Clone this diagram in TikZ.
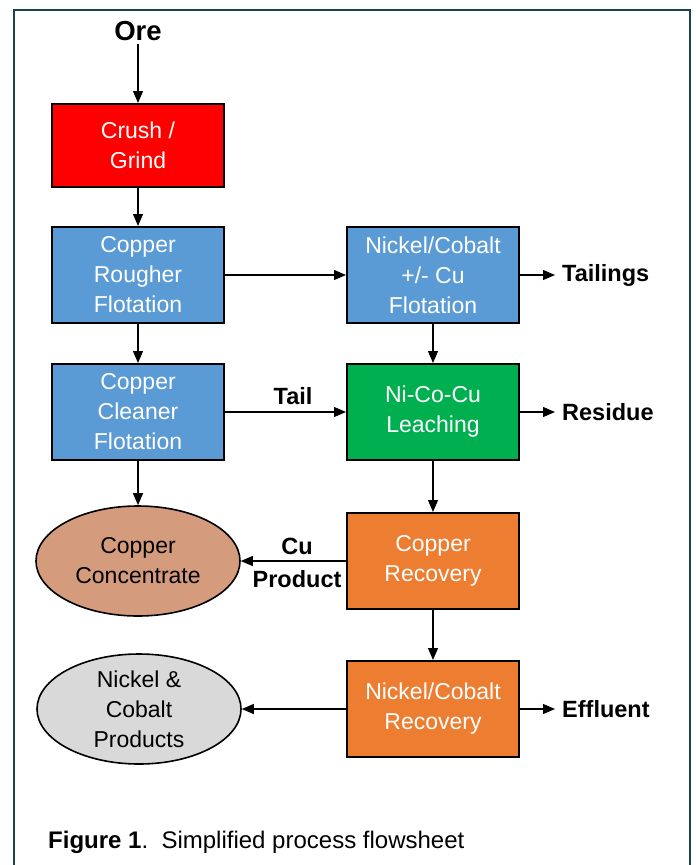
\documentclass[tikz,border=0pt]{standalone}
\usepackage{fontspec}
\setmainfont{Liberation Sans}
\usepackage{tikz}
\usetikzlibrary{shapes.geometric,arrows.meta,positioning}
\usepackage{xcolor}

\definecolor{framecol}{RGB}{25,68,80}
\definecolor{crushred}{RGB}{255,0,0}
\definecolor{flotblue}{RGB}{91,155,213}
\definecolor{leachgreen}{RGB}{0,176,80}
\definecolor{recorange}{RGB}{237,125,49}
\definecolor{cutan}{RGB}{212,156,124}
\definecolor{nigray}{RGB}{217,217,217}

\begin{document}
\begin{tikzpicture}[x=1pt, y=-1pt, >={Triangle[length=12pt,width=10pt]},
    unit/.style={draw=black, line width=2pt, minimum width=172pt, minimum height=96pt,
        inner sep=0pt, align=center, text=white, font=\fontsize{23}{30}\selectfont},
    product/.style={ellipse, draw=black, line width=1.6pt, minimum width=204pt,
        minimum height=110pt, inner sep=0pt, align=center, font=\fontsize{23}{30}\selectfont},
    stream/.style={->, line width=1.2pt},
    lbl/.style={font=\bfseries\fontsize{23.5}{33}\selectfont, align=center, inner sep=7pt}]
    \useasboundingbox (0,0) rectangle (696,865);
    \draw[framecol, line width=2.5pt] (14,890) |- (690,10) -- (690,890);

    % feed and copper circuit
    \node[font=\bfseries\fontsize{27.5}{30}\selectfont, inner sep=3pt] (ore) at (138,31) {Ore};
    \node[unit, fill=crushred, minimum height=83pt] (crush) at (138,145.5) {Crush /\\Grind};
    \node[unit, fill=flotblue] (rough) at (138,275) {Copper\\Rougher\\Flotation};
    \node[unit, fill=flotblue] (clean) at (138,412) {Copper\\Cleaner\\Flotation};
    \node[product, fill=cutan] (cuconc) at (138,561) {Copper\\Concentrate};

    % nickel/cobalt circuit
    \node[unit, fill=flotblue] (niflot) at (433,275) {Nickel/Cobalt\\+/- Cu\\Flotation};
    \node[unit, fill=leachgreen] (leach) at (433,412) {Ni-Co-Cu\\Leaching};
    \node[unit, fill=recorange] (curec) at (433,561) {Copper\\Recovery};
    \node[unit, fill=recorange] (nirec) at (433,709) {Nickel/Cobalt\\Recovery};
    \node[product, fill=nigray] (niprod) at (139,709) {Nickel \&\\Cobalt\\Products};

    % outlet streams
    \node[lbl, anchor=west] (tailings) at (555,275) {Tailings};
    \node[lbl, anchor=west] (residue) at (555,412) {Residue};
    \node[lbl, anchor=west] (effluent) at (555,709) {Effluent};
    \node[lbl] (taillbl) at (293,396) {Tail};
    \node[lbl] (cuprod) at (297,563) {Cu\\Product};

    \draw[stream] (ore) -- (crush);
    \draw[stream] (crush) -- (rough);
    \draw[stream] (rough) -- (clean);
    \draw[stream] (clean) -- (cuconc);
    \draw[stream] (rough) -- (niflot);
    \draw[stream] (niflot) -- (tailings);
    \draw[stream] (niflot) -- (leach);
    \draw[stream] (clean) -- (leach);
    \draw[stream] (leach) -- (residue);
    \draw[stream] (leach) -- (curec);
    \draw[stream] (curec) -- (cuconc);
    \draw[stream] (curec) -- (nirec);
    \draw[stream] (nirec) -- (niprod);
    \draw[stream] (nirec) -- (effluent);

    \node[anchor=base west, inner sep=0pt, font=\fontsize{24}{28}\selectfont] (caption) at (48,848)
        {\textbf{Figure 1}.\ \ Simplified process flowsheet};
\end{tikzpicture}
\end{document}
